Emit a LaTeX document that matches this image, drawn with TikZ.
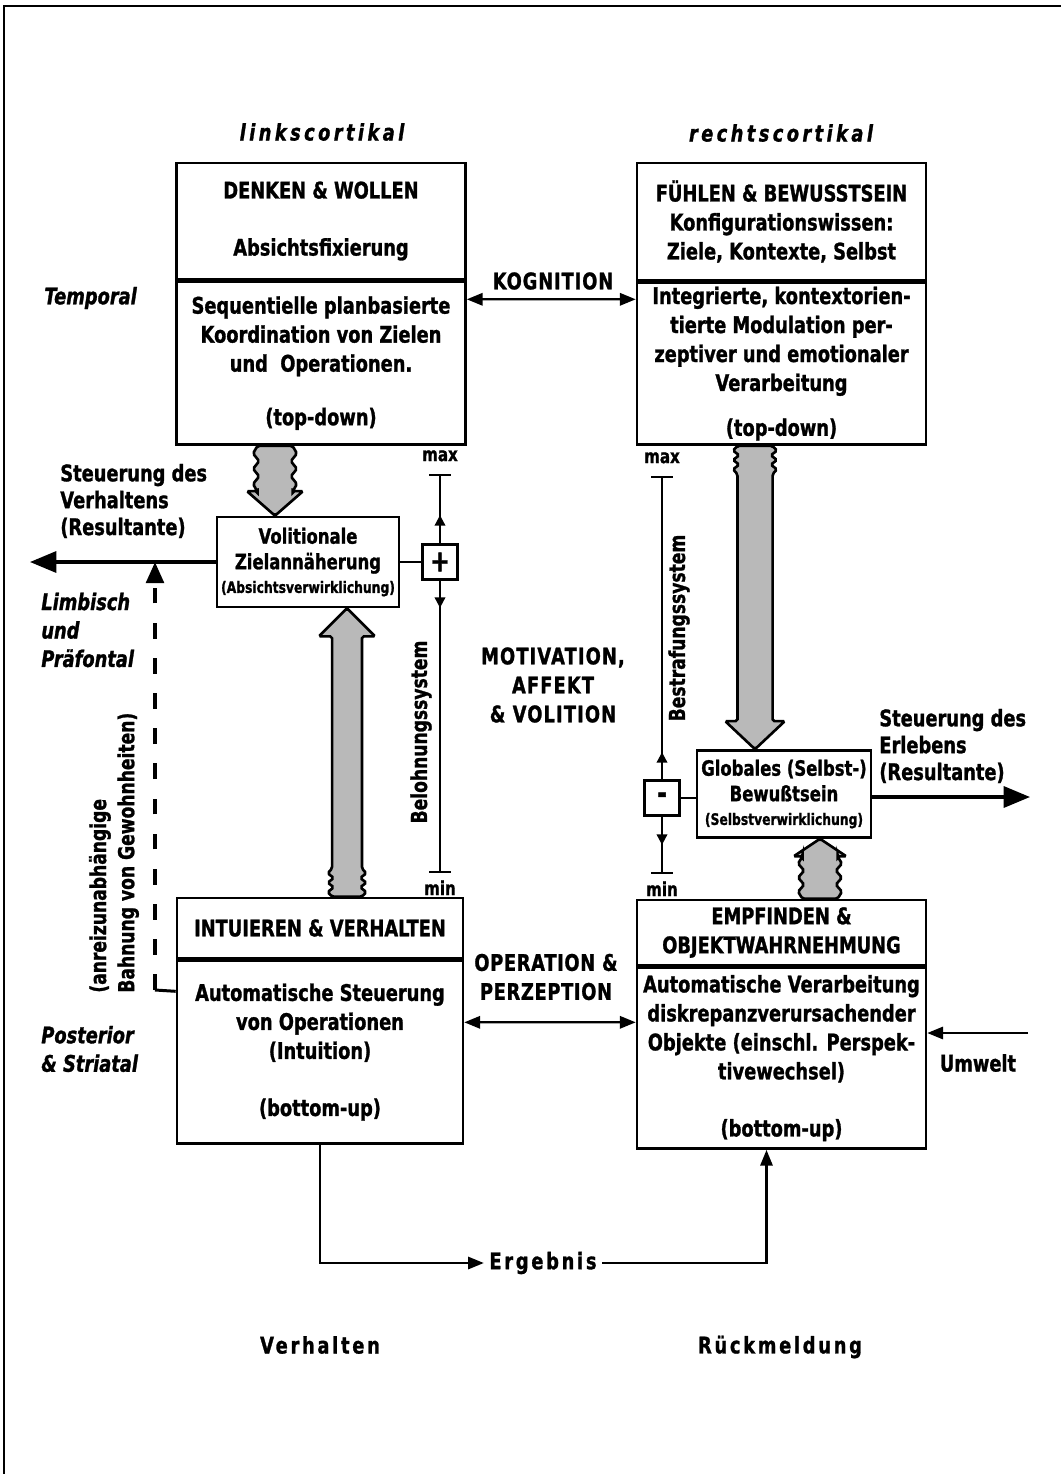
\documentclass[tikz,border=0pt]{standalone}
\usepackage{fontspec}
\setmainfont{DejaVu Sans}[FakeStretch=0.78, BoldFeatures={FakeBold=1.2}, BoldItalicFeatures={FakeBold=1.2}]
\usetikzlibrary{positioning,arrows.meta,calc}
% shaded block arrow with a wavy tail: tail, tip, shaft half width, head half width, head length, wave length
\newcommand\fatarrow[6]{%
  \draw[fat] let \p1=#1, \p2=#2,
      \n1={sign(\y2-\y1)*#6/6}, \n2={sign(\y2-\y1)*#5} in
    (\x1-#3,\y1) -- (\x1-#3-2.5pt,\y1+\n1) -- (\x1-#3+1pt,\y1+2*\n1)
    -- (\x1-#3-2.5pt,\y1+3*\n1) -- (\x1-#3+1pt,\y1+4*\n1)
    -- (\x1-#3-2.5pt,\y1+5*\n1) -- (\x1-#3,\y1+6*\n1)
    -- (\x1-#3,\y2-\n2) -- (\x1-#4,\y2-\n2) -- (\x1,\y2)
    -- (\x1+#4,\y2-\n2) -- (\x1+#3,\y2-\n2)
    -- (\x1+#3,\y1+6*\n1) -- (\x1+#3+2.5pt,\y1+5*\n1) -- (\x1+#3-1pt,\y1+4*\n1)
    -- (\x1+#3+2.5pt,\y1+3*\n1) -- (\x1+#3-1pt,\y1+2*\n1)
    -- (\x1+#3+2.5pt,\y1+\n1) -- (\x1+#3,\y1) -- cycle;}

\begin{document}
\begin{tikzpicture}[
  x=0.02cm, y=-0.02cm,
  font=\bfseries\fontsize{13}{16.5}\selectfont,
  box/.style={draw, line width=1.5pt, minimum width=5.78cm, align=center, inner sep=0pt},
  midbox/.style={draw, line width=1.5pt, align=center, inner sep=0pt,
              font=\bfseries\fontsize{12}{14.5}\selectfont},
  sign/.style={draw, line width=1.5pt, fill=white, minimum size=0.7cm, inner sep=0pt,
              font=\bfseries\fontsize{17}{17}\selectfont},
  tag/.style={align=left, inner sep=0pt, font=\bfseries\fontsize{13}{15.3}\selectfont},
  slant/.style={align=left, inner sep=0pt, font=\bfseries\itshape\fontsize{13}{16.2}\selectfont},
  spaced/.style={inner sep=0pt, align=center,
              font=\bfseries\fontsize{13}{16.5}\selectfont\addfontfeature{LetterSpace=#1}},
  turned/.style={rotate=90, inner sep=0pt, align=left, font=\bfseries\fontsize{12.5}{16}\selectfont},
  lim/.style={inner sep=1pt, font=\bfseries\fontsize{11}{11}\selectfont},
  meter/.style={{Bar[width=12pt]}-{Bar[width=12pt]}, line width=1pt},
  arrow/.style={-{Triangle[length=9pt,width=7pt]}, line width=1.3pt},
  twoway/.style={{Triangle[length=9pt,width=7pt]}-{Triangle[length=9pt,width=7pt]}, line width=1.3pt},
  bigarrow/.style={-{Triangle[length=15pt,width=12pt]}, line width=1.8pt},
  updown/.style={-{Triangle[length=6pt,width=6pt]}, line width=1.2pt},
  fat/.style={draw, line width=1.5pt, fill=gray!55, rounded corners=1pt}
]
\useasboundingbox (0,0) rectangle (1061,1474);
\draw[line width=1.2pt] (4,1474) -- (4,6) -- (1061,6);

% column heads
\node[font=\bfseries\itshape\fontsize{13}{16}\selectfont\addfontfeature{LetterSpace=15}] (lhead) at (322,132) {linkscortikal};
\node[font=\bfseries\itshape\fontsize{13}{16}\selectfont\addfontfeature{LetterSpace=15}] (rhead) at (781,133) {rechtscortikal};

% the four systems
\node[box, minimum height=2.32cm] (dwtop) at (321,221) {DENKEN \& WOLLEN\\[16pt]Absichtsfixierung};
\node[box, minimum height=3.26cm, below=0pt of dwtop] (dwbot) {Sequentielle planbasierte\\Koordination von Zielen\\und\ \ Operationen.\\[14pt](top-down)};
\node[box, minimum height=2.34cm] (fbtop) at (781.5,221.5) {FÜHLEN \& BEWUSSTSEIN\\Konfigurationswissen:\\Ziele, Kontexte, Selbst};
\node[box, minimum height=3.24cm, below=0pt of fbtop] (fbbot) {Integrierte, kontextorien-\\tierte Modulation per-\\zeptiver und emotionaler\\Verarbeitung\\[9pt](top-down)};
\node[box, minimum width=5.72cm, minimum height=1.2cm] (ivtop) at (320,928) {INTUIEREN \& VERHALTEN};
\node[box, minimum width=5.72cm, minimum height=3.66cm, below=0pt of ivtop] (ivbot) {Automatische Steuerung\\von Operationen\\(Intuition)\\[16pt](bottom-up)};
\node[box, minimum height=1.3cm] (eotop) at (781.5,932.5) {EMPFINDEN \&\\OBJEKTWAHRNEHMUNG};
\node[box, minimum height=3.62cm, below=0pt of eotop] (eobot) {Automatische Verarbeitung\\diskrepanzverursachender\\Objekte (einschl. Perspek-\\tivewechsel)\\[16pt](bottom-up)};

% resultants
\node[midbox, minimum width=3.64cm, minimum height=1.8cm] (vol) at (308,562) {Volitionale\\Zielannäherung\\[-1pt]{\fontsize{9}{11}\selectfont(Absichtsverwirklichung)}};
\node[midbox, minimum width=3.48cm, minimum height=1.74cm] (glob) at (784,794) {Globales (Selbst-)\\Bewußtsein\\[-1pt]{\fontsize{9}{11}\selectfont(Selbstverwirklichung)}};

% reward scale
\coordinate (pmax) at (440,474);
\coordinate (pmin) at (440,873);
\draw[meter] (pmax) -- (pmin);
\node[lim, above=6pt of pmax] (pmaxt) {max};
\node[lim, below=3pt of pmin] (pmint) {min};
\node[sign] (plus) at (pmax |- vol.east) {+};
\draw[line width=1.5pt] (vol.east) -- (plus.west);
\draw[updown] (plus.north) -- ++(0,-28);
\draw[updown] (plus.south) -- ++(0,27);
\node[turned] (reward) at (421,732) {Belohnungssystem};

% punishment scale
\coordinate (mmax) at (662,476);
\coordinate (mmin) at (662,874);
\draw[meter] (mmax) -- (mmin);
\node[lim, above=6pt of mmax] (mmaxt) {max};
\node[lim, below=3pt of mmin] (mmint) {min};
\node[sign] (minus) at (662,798) {-};
\draw[line width=1.5pt] (minus.east) -- (minus.east -| glob.west);
\draw[updown] (minus.north) -- ++(0,-27);
\draw[updown] (minus.south) -- ++(0,28);
\node[turned] (punish) at (679,628) {Bestrafungssystem};

% middle labels
\node[spaced=4] (cog) at (553,281) {KOGNITION};
\node[spaced=5] (mot) at (553,685) {MOTIVATION,\\AFFEKT\\\& VOLITION};
\node[spaced=3] (oper) at (546,977) {OPERATION \&\\PERZEPTION};

% side labels
\node[slant, anchor=west] (temp) at (44,298) {Temporal};
\node[tag, anchor=west] (ctrlL) at (60,501) {Steuerung des\\Verhaltens\\(Resultante)};
\node[slant, anchor=west] (limb) at (41,630) {Limbisch\\und\\Präfontal};
\node[slant, anchor=west] (post) at (41,1049) {Posterior\\\& Striatal};
\node[turned, anchor=west] (habitlab) at (114,993) {(anreizunabhängige\\Bahnung von Gewohnheiten)};
\node[tag, anchor=west] (ctrlR) at (879,746) {Steuerung des\\Erlebens\\(Resultante)};
\node (env) at (978,1063) {Umwelt};
\node[spaced=12, inner xsep=3pt] (erg) at (543,1263) {Ergebnis};
\node[spaced=12] (beh) at (320,1345) {Verhalten};
\node[spaced=12] (rueck) at (780,1347) {Rückmeldung};

% connectors
\draw[twoway] ($(dwbot.north east)+(0,19)$) -- ($(fbbot.north west)+(0,18)$);
\draw[twoway] ($(ivbot.north east)+(0,63)$) -- ($(eobot.north west)+(0,56)$);
\coordinate (outL) at (30,562);
\draw[bigarrow] (vol.west) -- (outL);
\coordinate (outR) at (1030,797);
\draw[bigarrow] (glob.east |- outR) -- (outR);
\coordinate (envin) at (1028,1033);
\draw[arrow] (envin) -- (envin -| eobot.east);
\coordinate (habit) at (155,990);
\draw[line width=1.7pt] ($(ivbot.north west)+(0,32)$) -- (habit);
\draw[line width=2.2pt, dash pattern=on 9pt off 11pt, -{Triangle[length=12pt,width=10pt]}] (habit) -- (habit |- vol.west);
\draw[arrow] (ivbot.south) |- (erg.west);
\draw[arrow] (erg.east) -| ($(eobot.south)+(-15,0)$);

% block arrows
\fatarrow{($(dwbot.south)+(-46,0)$)}{($(vol.north)+(-33,0)$)}{10pt}{16pt}{14pt}{26pt}
\fatarrow{($(ivtop.north)+(27,0)$)}{($(vol.south)+(39,0)$)}{8.5pt}{16pt}{16pt}{16pt}
\fatarrow{($(fbbot.south)+(-26.5,0)$)}{($(glob.north)+(-29,0)$)}{10pt}{17pt}{16pt}{16pt}
\fatarrow{($(eotop.north)+(38.5,0)$)}{($(glob.south)+(36,0)$)}{10pt}{15pt}{10pt}{24pt}
\end{tikzpicture}
\end{document}
